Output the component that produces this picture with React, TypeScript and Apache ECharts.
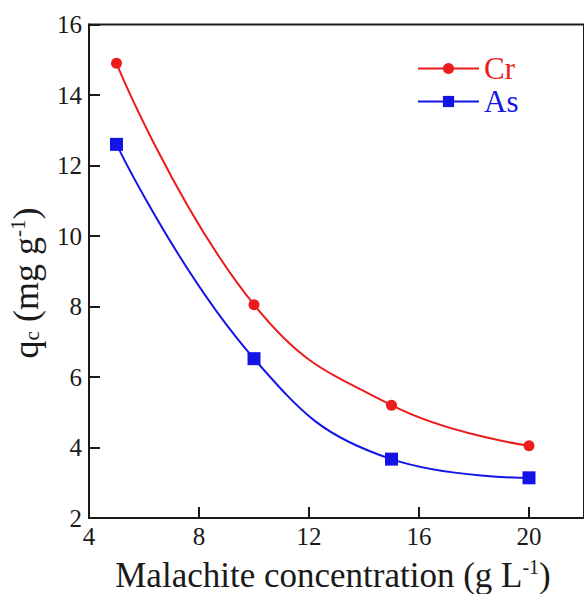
import React, { useEffect, useRef } from "react";
import * as echarts from "echarts";

const concentrations = [5, 10, 15, 20];
const crValues = [14.9, 8.05, 5.2, 4.05];
const asValues = [12.6, 6.52, 3.67, 3.14];
const seriesNames = ["Cr", "As"];

const RED = "#ec1c1c";
const BLUE = "#1414e6";
const INK = "#1a1a1a";
const FONT = "'Liberation Serif', 'Times New Roman', serif";

export default function App() {
  const ref = useRef<HTMLDivElement>(null);
  useEffect(() => {
    if (!ref.current) return;
    const chart = echarts.init(ref.current, null, { renderer: "svg" });
    const crData = concentrations.map((x, i) => [x, crValues[i]]);
    const asData = concentrations.map((x, i) => [x, asValues[i]]);
    chart.setOption({
      animation: false,
      backgroundColor: "#ffffff",
      grid: {
        left: 89,
        top: 24.5,
        right: -2,
        bottom: 76,
        show: true,
        borderColor: INK,
        borderWidth: 2,
        backgroundColor: "transparent",
      },
      xAxis: {
        type: "value",
        min: 4,
        max: 22,
        interval: 4,
        axisLine: { show: true, lineStyle: { color: INK, width: 2 } },
        axisTick: { show: true, inside: true, length: 11, lineStyle: { color: INK, width: 2 } },
        axisLabel: {
          show: true,
          showMaxLabel: false,
          margin: 6,
          fontSize: 25,
          fontFamily: FONT,
          color: INK,
        },
        splitLine: { show: false },
      },
      yAxis: {
        type: "value",
        min: 2,
        max: 16,
        interval: 2,
        axisLine: { show: true, lineStyle: { color: INK, width: 2 } },
        axisTick: { show: true, inside: true, length: 11, lineStyle: { color: INK, width: 2 } },
        axisLabel: {
          show: true,
          margin: 7,
          fontSize: 25,
          fontFamily: FONT,
          color: INK,
        },
        splitLine: { show: false },
      },
      legend: {
        orient: "vertical",
        left: 417,
        top: 53,
        padding: 0,
        itemWidth: 61,
        itemHeight: 14,
        itemGap: 2,
        textStyle: { fontSize: 31, fontFamily: FONT, lineHeight: 30 },
        data: [
          { name: seriesNames[0], textStyle: { color: RED } },
          { name: seriesNames[1], textStyle: { color: BLUE } },
        ],
      },
      series: [
        {
          name: seriesNames[0],
          type: "line",
          data: crData,
          smooth: 0.45,
          symbol: "circle",
          symbolSize: 11,
          lineStyle: { color: RED, width: 2 },
          itemStyle: { color: RED },
        },
        {
          name: seriesNames[1],
          type: "line",
          data: asData,
          smooth: 0.45,
          symbol: "rect",
          symbolSize: 13,
          lineStyle: { color: BLUE, width: 2 },
          itemStyle: { color: BLUE },
        },
      ],
      graphic: [
        {
          type: "text",
          x: 333,
          y: 575,
          style: {
            text: "Malachite concentration (g L{sup|-1})",
            fontSize: 35,
            fontFamily: FONT,
            fill: INK,
            align: "center",
            verticalAlign: "middle",
            rich: {
              sup: { fontSize: 20, fontFamily: FONT, fill: INK, padding: [0, 0, 16, 0] },
            },
          },
        },
        {
          type: "text",
          x: 26,
          y: 283,
          rotation: Math.PI / 2,
          style: {
            text: "q{sub|c} (mg g{sup|-1})",
            fontSize: 36,
            fontFamily: FONT,
            fill: INK,
            align: "center",
            verticalAlign: "middle",
            rich: {
              sub: { fontSize: 21, fontFamily: FONT, fill: INK, padding: [12, 0, 0, 0] },
              sup: { fontSize: 21, fontFamily: FONT, fill: INK, padding: [0, 0, 16, 0] },
            },
          },
        },
      ],
    });
    return () => chart.dispose();
  }, []);
  return (
    <div
      ref={ref}
      style={{ position: "fixed", left: 0, top: 0, width: 584, height: 594, background: "#fff" }}
    />
  );
}
